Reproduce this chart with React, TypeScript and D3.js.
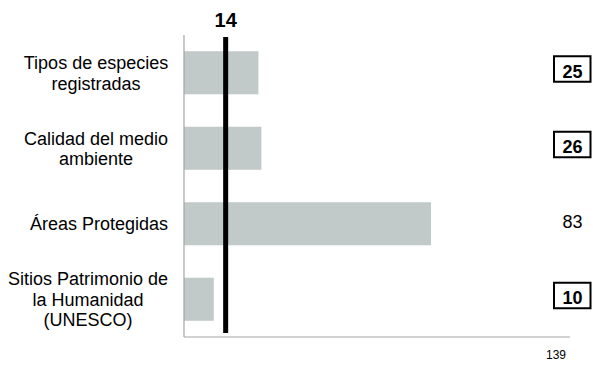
import React from "react";
import * as d3 from "d3";

const categories = [
  ["Tipos de especies", "registradas"],
  ["Calidad del medio", "ambiente"],
  ["Áreas Protegidas"],
  ["Sitios Patrimonio de", "la Humanidad", "(UNESCO)"],
];
const values = [25, 26, 83, 10];
const boxed = [true, true, false, true];
const reference = 14;
const axisMaxLabel = "139";

const W = 593;
const H = 365;
const FONT = "'Liberation Sans', Arial, sans-serif";
const labelCenterX = [96, 96, 99, 88];

export default function App() {
  const x = d3.scaleLinear().domain([0, 129.7]).range([184, 570]);
  const y = d3
    .scaleBand<number>()
    .domain(d3.range(categories.length))
    .range([35, 337])
    .paddingInner(0.43)
    .paddingOuter(0.215);

  return (
    <svg width={W} height={H} style={{ position: "absolute", left: 0, top: 0 }}>
      <rect width={W} height={H} fill="#fff" />
      {values.map((v, i) => (
        <rect
          key={"b" + i}
          x={x(0)}
          y={y(i)!}
          width={x(v) - x(0)}
          height={y.bandwidth()}
          fill="#c1c9c9"
        />
      ))}
      <line x1={x(0)} x2={x(0)} y1={35} y2={337} stroke="#a6a6a6" strokeWidth={1.2} />
      <line x1={x(0)} x2={570} y1={337} y2={337} stroke="#a6a6a6" strokeWidth={1.2} />
      <line
        x1={x(reference)}
        x2={x(reference)}
        y1={37}
        y2={333}
        stroke="#000"
        strokeWidth={5}
      />
      <text
        x={x(reference)}
        y={27}
        textAnchor="middle"
        fontFamily={FONT}
        fontWeight="bold"
        fontSize={20}
        fill="#000"
      >
        {reference}
      </text>
      {categories.map((lines, i) => {
        const cy = y(i)! + y.bandwidth() / 2;
        const lh = 20.5;
        const start = cy - ((lines.length - 1) * lh) / 2;
        return (
          <text
            key={"l" + i}
            textAnchor="middle"
            fontFamily={FONT}
            fontSize={18}
            fill="#000"
          >
            {lines.map((t, j) => (
              <tspan key={j} x={labelCenterX[i]} y={start + j * lh + 6.5}>
                {t}
              </tspan>
            ))}
          </text>
        );
      })}
      {values.map((v, i) => {
        const cy = y(i)! + y.bandwidth() / 2;
        return (
          <g key={"v" + i}>
            {boxed[i] && (
              <rect
                x={554}
                y={cy - 16.5}
                width={36.5}
                height={25.5}
                fill="#fff"
                stroke="#000"
                strokeWidth={2}
              />
            )}
            <text
              x={572.5}
              y={boxed[i] ? cy + 5 : cy + 4.5}
              textAnchor="middle"
              fontFamily={FONT}
              fontWeight={boxed[i] ? "bold" : "normal"}
              fontSize={18}
              fill="#000"
            >
              {v}
            </text>
          </g>
        );
      })}
      <text x={556} y={359} textAnchor="middle" fontFamily={FONT} fontSize={12} fill="#000">
        {axisMaxLabel}
      </text>
    </svg>
  );
}
